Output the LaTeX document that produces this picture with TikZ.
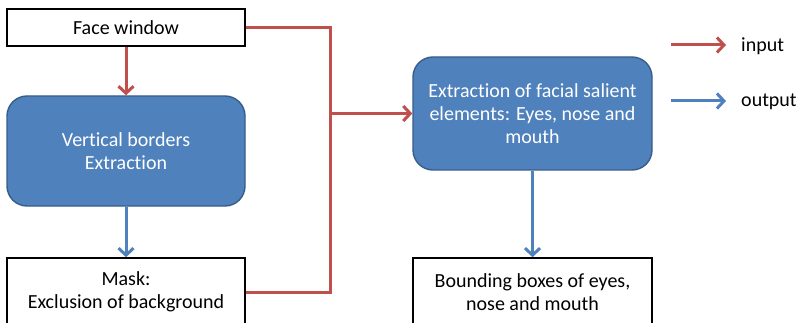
\documentclass[tikz,border=0pt]{standalone}
\usepackage{fontspec}
\setmainfont{Carlito}[Ligatures={NoCommon}]
\usetikzlibrary{arrows.meta}
\definecolor{boxblue}{HTML}{4F81BD}
\definecolor{boxedge}{HTML}{385D8A}
\definecolor{inred}{HTML}{C0504D}
\definecolor{outblue}{HTML}{4F81BD}
\tikzset{
  plain/.style={draw=black, line width=1.6pt, fill=white, minimum width=238pt,
    align=center, font=\fontsize{20}{23}\selectfont, inner sep=0pt},
  process/.style={draw=boxedge, line width=1.4pt, fill=boxblue, rounded corners=20pt,
    minimum width=238pt, align=center, text=white,
    font=\fontsize{20}{23}\selectfont, inner sep=0pt},
  inflow/.style={draw=inred, line width=3pt},
  outflow/.style={draw=outblue, line width=3pt},
  tip/.style={-{Straight Barb[length=7pt,width=15pt]}},
  legendtext/.style={anchor=west, font=\fontsize{20}{23}\selectfont, inner sep=0pt}
}
\begin{document}
\begin{tikzpicture}[x=1pt, y=-1pt]
\useasboundingbox (0,0) rectangle (797,323);
\clip (0,0) rectangle (797,323);
\fill[white] (0,0) rectangle (797,323);

% left column
\node[plain, minimum height=37pt] (face) at (126,27.5) {Face window};
\node[process, minimum height=110pt] (borders) at (126,151) {Vertical borders\\Extraction};
\node[plain, minimum height=68pt] (mask) at (126,292) {Mask:\\Exclusion of background};

% right column
\node[process, minimum width=239pt, minimum height=113pt] (salient) at (532.5,113.5)
  {Extraction of facial salient\\elements: Eyes, nose and\\mouth};
\node[plain, minimum width=239pt, minimum height=68pt] (bbox) at (532.5,292)
  {Bounding boxes of eyes,\\nose and mouth};

% connectors
\coordinate (bus) at (330,0);
\coordinate (join) at (bus |- salient.west);
\draw[inflow, tip] (face.south) -- (borders.north);
\draw[outflow, tip] (borders.south) -- (mask.north);
\draw[inflow, line join=miter] (face.east) -| (bus |- mask.east) -- (mask.east);
\draw[inflow, tip] (join) -- (salient.west);
\draw[outflow, tip] (salient.south) -- (bbox.north);

% legend
\coordinate (inA) at (671,45);
\coordinate (inB) at (726,45);
\coordinate (outA) at (671,101);
\coordinate (outB) at (726,101);
\draw[inflow, tip] (inA) -- (inB);
\draw[outflow, tip] (outA) -- (outB);
\node[legendtext] (inlabel) at (741,46) {input};
\node[legendtext] (outlabel) at (741,102) {output};
\end{tikzpicture}
\end{document}
